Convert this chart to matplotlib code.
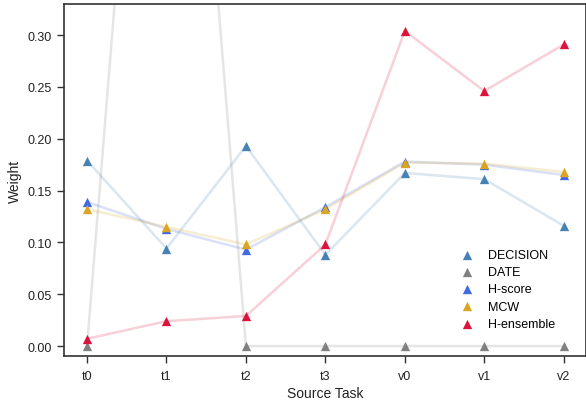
import matplotlib
matplotlib.use("Agg")
import matplotlib.pyplot as plt
import numpy as np

plt.rcParams['font.family'] = ['Liberation Sans', 'DejaVu Sans']

tasks = ["t0", "t1", "t2", "t3", "v0", "v1", "v2"]
decision = [0.179, 0.094, 0.193, 0.088, 0.167, 0.161, 0.116]
date = [0.0, 0.95, 0.0, 0.0, 0.0, 0.0, 0.0]
hscore = [0.139, 0.113, 0.093, 0.134, 0.178, 0.175, 0.165]
mcw = [0.132, 0.115, 0.098, 0.132, 0.177, 0.176, 0.168]
hensemble = [0.007, 0.024, 0.029, 0.098, 0.304, 0.246, 0.291]

series = [
    ("DECISION", decision, "steelblue"),
    ("DATE", date, "gray"),
    ("H-score", hscore, "royalblue"),
    ("MCW", mcw, "goldenrod"),
    ("H-ensemble", hensemble, "crimson"),
]

fig = plt.figure(figsize=(5.86, 4.02), dpi=100)
ax = fig.add_axes([64/586, 45/402, 1 - 64/586, 352/402])
x = np.arange(len(tasks))
for name, vals, col in series:
    ax.plot(x, vals, color=col, alpha=0.2, lw=1.8, zorder=1)
for name, vals, col in series:
    ax.scatter(x, vals, marker="^", s=45, color=col, label=name, zorder=3, linewidths=0)

ax.set_xticks(x)
ax.set_xticklabels(tasks)
ax.set_xlim(-0.29, 6.28)
ax.set_ylim(-0.0096, 0.33)
ax.set_yticks([0.0, 0.05, 0.10, 0.15, 0.20, 0.25, 0.30])
ax.set_yticklabels(["0.00", "0.05", "0.10", "0.15", "0.20", "0.25", "0.30"])
ax.tick_params(labelsize=9, length=5, width=1.0, color="#333333", labelcolor="#222222")
ax.tick_params(axis="x", pad=5)
for sp in ax.spines.values():
    sp.set_linewidth(1.2)
    sp.set_color("#333333")
ax.set_xlabel("Source Task", fontsize=10, color="#222222", labelpad=3)
ax.set_ylabel("Weight", fontsize=10, color="#222222")
ax.legend(loc="lower right", bbox_to_anchor=(0.962, 0.042), frameon=False, fontsize=9,
          handletextpad=0.7, labelspacing=0.42, scatterpoints=1)

fig.savefig("out.png", dpi=100)
